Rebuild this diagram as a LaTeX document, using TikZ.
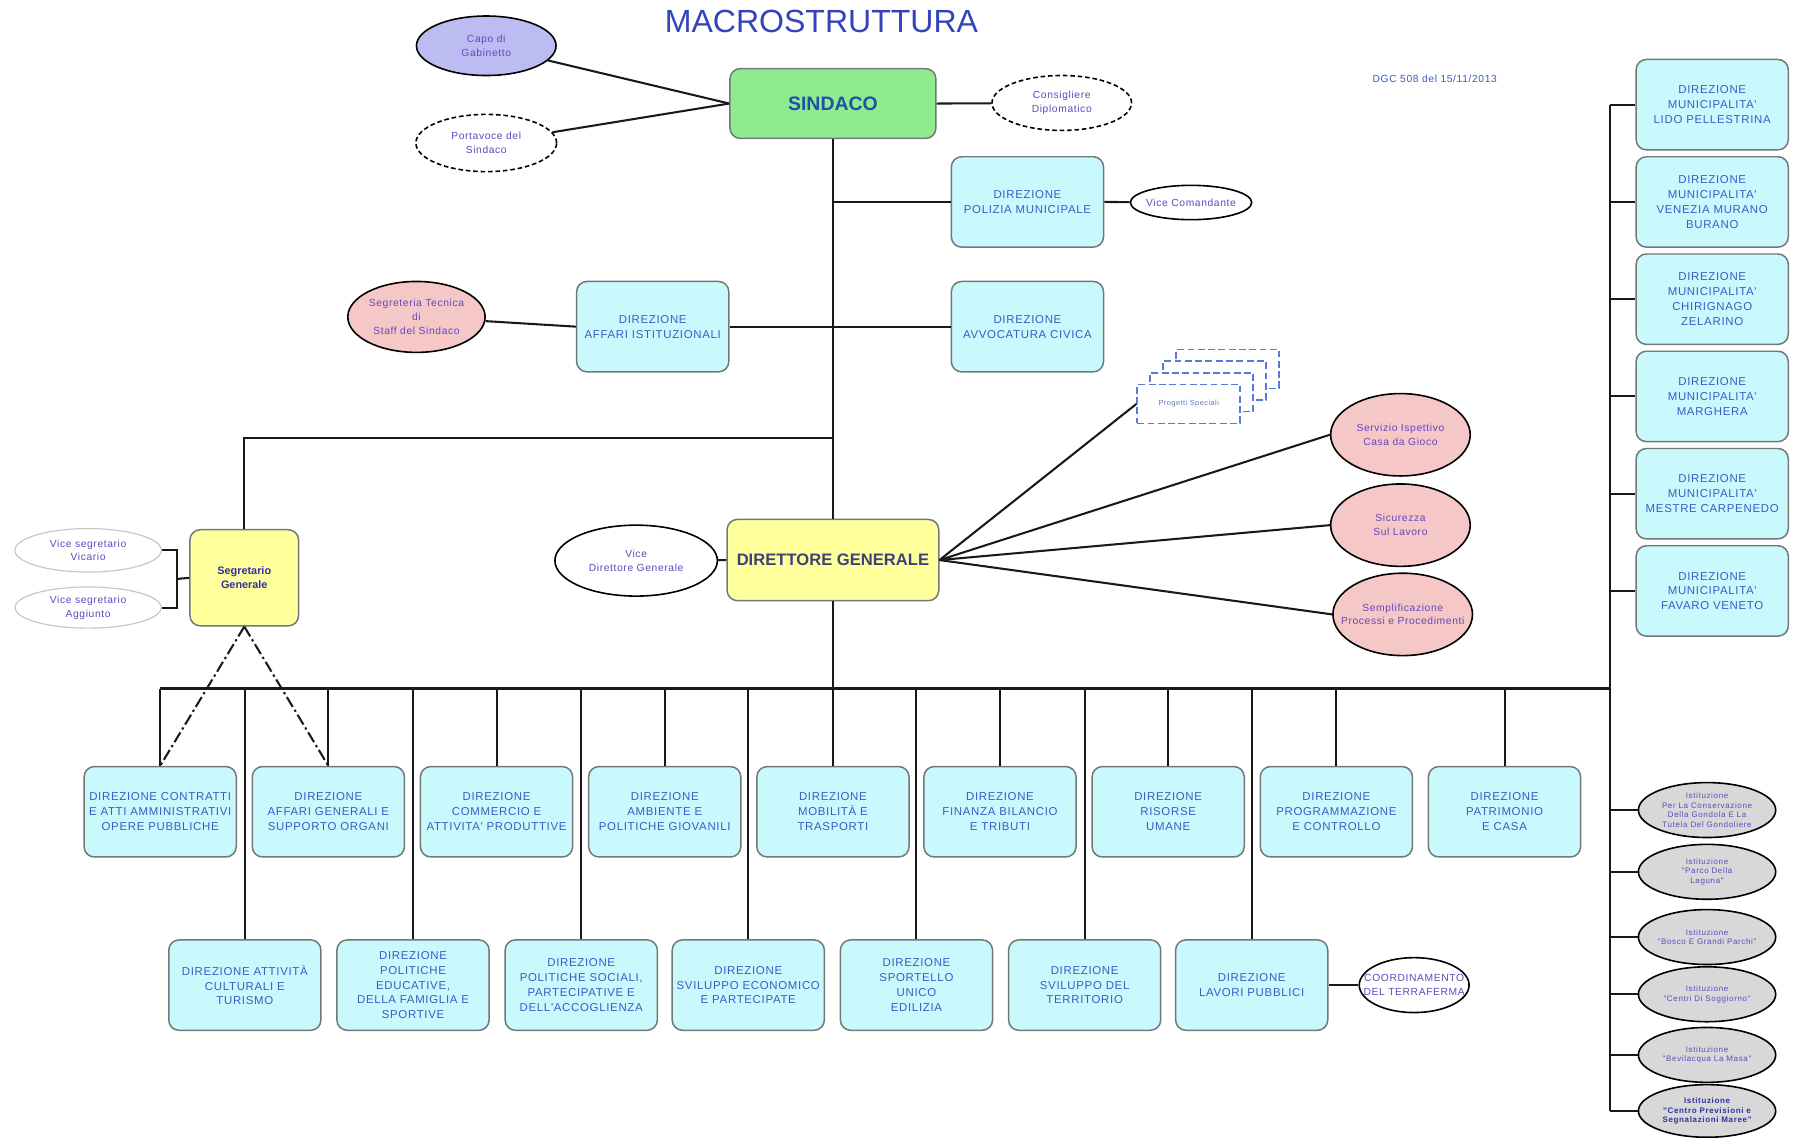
\documentclass[tikz,border=0pt]{standalone}
\usepackage{fontspec}
\setmainfont{Liberation Sans}
\newfontfamily\boxfam[LetterSpace=6]{Liberation Sans}
\newfontfamily\ellfam[LetterSpace=6]{Liberation Sans}
\newfontfamily\istfam[LetterSpace=8]{Liberation Sans}
\usetikzlibrary{shapes.geometric}
\definecolor{boxfill}{HTML}{C9F9FD}
\definecolor{boxborder}{HTML}{707878}
\definecolor{boxtext}{HTML}{3A5CC4}
\definecolor{elltext}{HTML}{6048C0}
\definecolor{sgreen}{HTML}{8EEC8E}
\definecolor{syellow}{HTML}{FFFF9C}
\definecolor{spink}{HTML}{F6C7C7}
\definecolor{slav}{HTML}{BCBCF2}
\definecolor{sgray}{HTML}{D8D8D8}
\definecolor{titleblue}{HTML}{3344BB}
\definecolor{psblue}{HTML}{5A78D8}
\definecolor{sindtext}{HTML}{2050A8}
\definecolor{dgtext}{HTML}{404078}
\definecolor{sgtext}{HTML}{3030A0}
\tikzset{
  dbox/.style={draw=boxborder, line width=1.3pt, fill=boxfill, rounded corners=9pt,
    minimum width=133pt, minimum height=79pt, inner sep=1pt, align=center,
    text=boxtext, font=\boxfam\fontsize{10}{13}\selectfont},
  ybox/.style={draw=boxborder, line width=1.3pt, fill=syellow, rounded corners=9pt, align=center},
  ellbase/.style={ellipse, draw=black, line width=1.4pt, inner sep=0pt, fill=white},
  dashell/.style={ellbase, dash pattern=on 4pt off 2.5pt},
  elab/.style={align=center, text=elltext, font=\ellfam\fontsize{9}{12}\selectfont, inner sep=0pt},
  ist/.style={ellbase, fill=sgray, minimum width=120pt, minimum height=48pt},
  istlab/.style={align=center, text=elltext, font=\istfam\fontsize{7}{8.4}\selectfont, inner sep=0pt},
  psbox/.style={draw=psblue, fill=white, line width=1.4pt, dash pattern=on 6pt off 3pt,
    minimum width=90pt, minimum height=34pt, inner sep=0pt},
  wire/.style={line width=1.8pt, draw=black!90},
  dashdot/.style={dash pattern=on 10pt off 3pt on 2pt off 3pt},
}
\begin{document}
\begin{tikzpicture}[x=1pt,y=-1pt]
\useasboundingbox (0,0) rectangle (1568,994.6);
\fill[white] (0,0) rectangle (1568,994.6);

% ---------- nodes ----------
\node[font=\fontsize{28}{30}\selectfont, text=titleblue, inner sep=0pt] (title) at (718,19) {MACROSTRUTTURA};
\node[font=\ellfam\fontsize{9}{11}\selectfont, text=boxtext, inner sep=0pt] (dgc) at (1254,69) {DGC 508 del 15/11/2013};

\node[draw=boxborder, line width=1.3pt, fill=sgreen, rounded corners=9pt, minimum width=180pt, minimum height=61pt,
  font=\bfseries\fontsize{17}{20}\selectfont, text=sindtext] (sindaco) at (728,90.5) {SINDACO};

\node[ellbase, fill=slav, minimum width=122pt, minimum height=52pt,
  label={[elab]center:Capo di\\Gabinetto}] (capo) at (425,40) {};
\node[dashell, minimum width=123pt, minimum height=50pt,
  label={[elab]center:Portavoce del\\Sindaco}] (portav) at (425,125) {};
\node[dashell, minimum width=122pt, minimum height=48pt,
  label={[elab]center:Consigliere\\Diplomatico}] (consig) at (928,90) {};

\node[dbox] (polizia) at (898,176.5) {DIREZIONE\\POLIZIA MUNICIPALE};
\node[ellbase, minimum width=106pt, minimum height=30pt,
  label={[elab]center:Vice Comandante}] (vcom) at (1041,177) {};
\node[dbox] (avv) at (898,285.5) {DIREZIONE\\AVVOCATURA CIVICA};
\node[dbox] (affist) at (570.5,285.5) {DIREZIONE\\AFFARI ISTITUZIONALI};
\node[ellbase, fill=spink, minimum width=120pt, minimum height=62pt,
  label={[elab]center:Segreteria Tecnica\\di\\Staff del Sindaco}] (segtec) at (364,277) {};

\node[ybox, minimum width=95pt, minimum height=84pt, text=sgtext,
  font=\bfseries\fontsize{9.5}{12}\selectfont] (seggen) at (213.5,505) {Segretario\\Generale};
\node[ellbase, draw=gray!45, line width=1pt, minimum width=128pt, minimum height=38pt,
  label={[elab]center:Vice segretario\\Vicario}] (vsv) at (77,481) {};
\node[ellbase, draw=gray!45, line width=1pt, minimum width=128pt, minimum height=36pt,
  label={[elab]center:Vice segretario\\Aggiunto}] (vsa) at (77,531) {};

\node[ybox, minimum width=185pt, minimum height=71pt, text=dgtext,
  font=\bfseries\fontsize{14.5}{17}\selectfont] (dg) at (728,489.5) {DIRETTORE GENERALE};
\node[ellbase, minimum width=142pt, minimum height=62pt,
  label={[elab]center:Vice\\Direttore Generale}] (vdg) at (556,490) {};

% Progetti speciali (stacked)
\node[psbox] (ps3) at (1072.9,322.4) {};
\node[psbox] (ps2) at (1061.6,332.6) {};
\node[psbox] (ps1) at (1050.3,342.8) {};
\node[psbox, text=psblue!70!gray, font=\ellfam\fontsize{6.5}{8}\selectfont] (ps0) at (1039,353) {Progetti Speciali};

\node[ellbase, fill=spink, minimum width=122pt, minimum height=72pt,
  label={[elab]center:Servizio Ispettivo\\Casa da Gioco}] (servizio) at (1224,380) {};
\node[ellbase, fill=spink, minimum width=122pt, minimum height=72pt,
  label={[elab]center:Sicurezza\\Sul Lavoro}] (sicur) at (1224,459) {};
\node[ellbase, fill=spink, minimum width=122pt, minimum height=72pt,
  label={[elab]center:Semplificazione\\Processi e Procedimenti}] (sempl) at (1226,537) {};

% Municipalita
\node[dbox] (m1) at (1496.5,91.5) {DIREZIONE\\MUNICIPALITA'\\LIDO PELLESTRINA};
\node[dbox] (m2) at (1496.5,176.5) {DIREZIONE\\MUNICIPALITA'\\VENEZIA MURANO\\BURANO};
\node[dbox] (m3) at (1496.5,261.5) {DIREZIONE\\MUNICIPALITA'\\CHIRIGNAGO\\ZELARINO};
\node[dbox] (m4) at (1496.5,346.5) {DIREZIONE\\MUNICIPALITA'\\MARGHERA};
\node[dbox] (m5) at (1496.5,431.5) {DIREZIONE\\MUNICIPALITA'\\MESTRE CARPENEDO};
\node[dbox] (m6) at (1496.5,516.5) {DIREZIONE\\MUNICIPALITA'\\FAVARO VENETO};

% Istituzioni
\node[ist, label={[istlab]center:Istituzione\\Per La Conservazione\\Della Gondola E La\\Tutela Del Gondoliere}] (i1) at (1492,708) {};
\node[ist, label={[istlab]center:Istituzione\\"Parco Della\\Laguna"}] (i2) at (1492,762) {};
\node[ist, label={[istlab]center:Istituzione\\"Bosco E Grandi Parchi"}] (i3) at (1492,819) {};
\node[ist, label={[istlab]center:Istituzione\\"Centri Di Soggiorno"}] (i4) at (1492,869) {};
\node[ist, label={[istlab]center:Istituzione\\"Bevilacqua La Masa"}] (i5) at (1492,922) {};
\node[ist, minimum height=46pt, label={[istlab, text=sgtext, font=\istfam\bfseries\fontsize{7}{8.4}\selectfont]center:Istituzione\\"Centro Previsioni e\\Segnalazioni Maree"}] (i6) at (1492,971) {};

% Row 1
\node[dbox] (ra1) at (140,709.5) {DIREZIONE CONTRATTI\\E ATTI AMMINISTRATIVI\\OPERE PUBBLICHE};
\node[dbox] (ra2) at (287,709.5) {DIREZIONE\\AFFARI GENERALI E\\SUPPORTO ORGANI};
\node[dbox] (ra3) at (434,709.5) {DIREZIONE\\COMMERCIO E\\ATTIVITA' PRODUTTIVE};
\node[dbox] (ra4) at (581,709.5) {DIREZIONE\\AMBIENTE E\\POLITICHE GIOVANILI};
\node[dbox] (ra5) at (728,709.5) {DIREZIONE\\MOBILITÀ E\\TRASPORTI};
\node[dbox] (ra6) at (874,709.5) {DIREZIONE\\FINANZA BILANCIO\\E TRIBUTI};
\node[dbox] (ra7) at (1021,709.5) {DIREZIONE\\RISORSE\\UMANE};
\node[dbox] (ra8) at (1168,709.5) {DIREZIONE\\PROGRAMMAZIONE\\E CONTROLLO};
\node[dbox] (ra9) at (1315,709.5) {DIREZIONE\\PATRIMONIO\\E CASA};

% Row 2
\node[dbox] (rb1) at (214,861) {DIREZIONE ATTIVITÀ\\CULTURALI E\\TURISMO};
\node[dbox] (rb2) at (361,861) {DIREZIONE\\POLITICHE\\EDUCATIVE,\\DELLA FAMIGLIA E\\SPORTIVE};
\node[dbox] (rb3) at (508,861) {DIREZIONE\\POLITICHE SOCIALI,\\PARTECIPATIVE E\\DELL'ACCOGLIENZA};
\node[dbox] (rb4) at (654,861) {DIREZIONE\\SVILUPPO ECONOMICO\\E PARTECIPATE};
\node[dbox] (rb5) at (801,861) {DIREZIONE\\SPORTELLO\\UNICO\\EDILIZIA};
\node[dbox] (rb6) at (948,861) {DIREZIONE\\SVILUPPO DEL\\TERRITORIO};
\node[dbox] (rb7) at (1094,861) {DIREZIONE\\LAVORI PUBBLICI};
\node[ellbase, minimum width=96pt, minimum height=48pt,
  label={[elab]center:COORDINAMENTO\\DEL TERRAFERMA}] (coord) at (1236,861) {};

% ---------- connectors ----------
\coordinate (jseg) at (728,383);
\coordinate (br) at (155,506);
\coordinate (busL) at (140,602);
\coordinate (busR) at (1407,602);
\coordinate (mtop) at (1407,91.5);
\coordinate (mbot) at (1407,971);

\draw[wire] (capo) -- (sindaco.west);
\draw[wire] (portav) -- (sindaco.west);
\draw[wire] (sindaco.east) -- (consig);
\draw[wire] (sindaco.south) -- (dg.north);
\draw[wire] (sindaco.south |- polizia.west) -- (polizia.west);
\draw[wire] (affist.east) -- (avv.west);
\draw[wire] (polizia.east) -- (vcom);
\draw[wire] (segtec) -- (affist.west);
\draw[wire] (jseg) -| (seggen.north);
\draw[wire] (vsv.east) -| (br) |- (vsa.east);
\draw[wire] (br) -- (seggen.west);
\draw[wire] (vdg) -- (dg.west);
\draw[wire] (dg.east) -- (ps0.west);
\draw[wire] (dg.east) -- (servizio.west);
\draw[wire] (dg.east) -- (sicur.west);
\draw[wire] (dg.east) -- (sempl.west);
\draw[wire] (dg.south) -- (dg.south |- busL);
\draw[wire, line width=2.3pt] (busL) -- (busR);
\draw[wire] (mtop) -- (mbot);
\foreach \n in {m1,m2,m3,m4,m5,m6,i1,i2,i3,i4,i5,i6}
  \draw[wire] (mtop |- \n.west) -- (\n.west);
\foreach \n in {ra1,ra2,ra3,ra4,ra5,ra6,ra7,ra8,ra9,rb1,rb2,rb3,rb4,rb5,rb6,rb7}
  \draw[wire] (\n.north |- busL) -- (\n.north);
\draw[wire, dashdot] (seggen.south) -- (ra1.north);
\draw[wire, dashdot] (seggen.south) -- (ra2.north);
\draw[wire] (rb7.east) -- (coord);
\end{tikzpicture}
\end{document}
